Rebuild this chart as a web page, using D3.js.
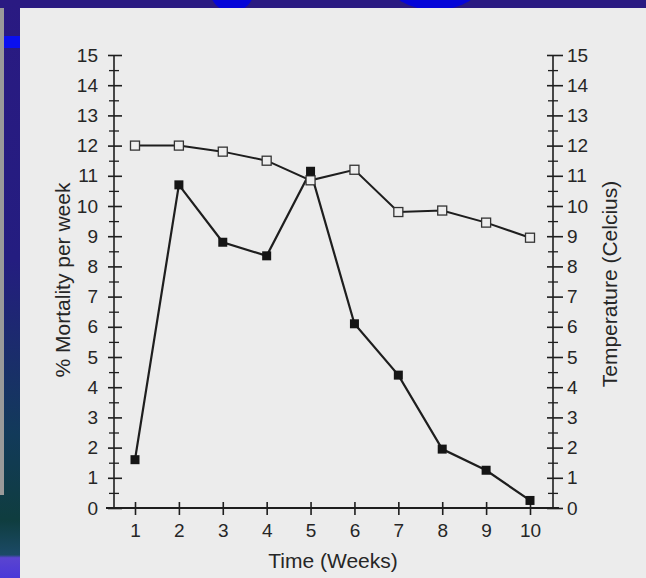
<!DOCTYPE html>
<html>
<head>
<meta charset="utf-8">
<script src="https://cdn.jsdelivr.net/npm/d3@7"></script>
<style>
  body { margin: 0; background: #2a1a82; }
  svg { display: block; }
  text { font-family: "Liberation Sans", Arial, sans-serif; fill: #262626; }
</style>
</head>
<body>
<div id="chart"></div>
<script>
const width = 646;
const height = 578;

// data
const weeks = [1, 2, 3, 4, 5, 6, 7, 8, 9, 10];
const mortality = [1.6, 10.7, 8.8, 8.35, 11.15, 6.1, 4.4, 1.95, 1.25, 0.25];
const temperature = [12.0, 12.0, 11.8, 11.5, 10.85, 11.2, 9.8, 9.85, 9.45, 8.95];
const yTicks = d3.range(0, 16);
const yMinorTicks = d3.range(0.5, 15, 1);

const axisLeftX = 114;
const axisRightX = 553;
const axisBottomY = 508;

const x = d3.scaleLinear().domain([1, 10]).range([135, 530]);
const yLeft = d3.scaleLinear().domain([0, 15]).range([axisBottomY, 55]);
const yRight = d3.scaleLinear().domain([0, 15]).range([axisBottomY, 55]);

const svg = d3.select('#chart').append('svg')
  .attr('width', width).attr('height', height);

// powerpoint background + scanned page
const defs = svg.append('defs');
const grad = defs.append('linearGradient').attr('id', 'side').attr('x1', 0).attr('y1', 0).attr('x2', 0).attr('y2', 1);
grad.append('stop').attr('offset', '0%').attr('stop-color', '#2a1a82');
grad.append('stop').attr('offset', '45%').attr('stop-color', '#241d80');
grad.append('stop').attr('offset', '75%').attr('stop-color', '#123a5a');
grad.append('stop').attr('offset', '90%').attr('stop-color', '#0f3d3f');
grad.append('stop').attr('offset', '96%').attr('stop-color', '#1b4a66');
grad.append('stop').attr('offset', '96.5%').attr('stop-color', '#5a44d0');
grad.append('stop').attr('offset', '100%').attr('stop-color', '#4a38d8');

svg.append('rect').attr('width', width).attr('height', height).attr('fill', '#2a1a82');
svg.append('rect').attr('x', 0).attr('y', 0).attr('width', 20).attr('height', height).attr('fill', 'url(#side)');
svg.append('rect').attr('x', 0).attr('y', 8).attr('width', 4).attr('height', 487).attr('fill', '#9a9a9a');
svg.append('rect').attr('x', 4).attr('y', 36).attr('width', 16).attr('height', 12).attr('fill', '#0a10f0');

// blue shapes peeking over the top edge
svg.append('ellipse').attr('cx', 232).attr('cy', -10).attr('rx', 22).attr('ry', 22).attr('fill', '#0505d8');
svg.append('ellipse').attr('cx', 435).attr('cy', -20).attr('rx', 48).attr('ry', 30).attr('fill', '#0505d8');

svg.append('rect').attr('x', 20).attr('y', 8).attr('width', width - 20).attr('height', height - 8).attr('fill', '#ececec');

const ink = '#1e1e1e';

// left axis
const gLeft = svg.append('g').attr('transform', `translate(${axisLeftX},0)`);
gLeft.call(d3.axisLeft(yLeft).tickValues(yTicks).tickSize(6).tickPadding(10).tickSizeOuter(0))
  .call(g => g.select('.domain').remove())
  .call(g => g.selectAll('line').attr('x1', 8).attr('stroke', ink).attr('stroke-width', 1.6))
  .call(g => g.selectAll('text').attr('font-size', 19).style('fill', '#262626'));
gLeft.append('g')
  .call(d3.axisLeft(yLeft).tickValues(yMinorTicks).tickSize(5).tickFormat(''))
  .call(g => g.select('.domain').remove())
  .call(g => g.selectAll('line').attr('x1', 5).attr('stroke', ink).attr('stroke-width', 1.3));
gLeft.append('line').attr('y1', yLeft(15)).attr('y2', axisBottomY).attr('stroke', ink).attr('stroke-width', 1.6);

// right axis
const gRight = svg.append('g').attr('transform', `translate(${axisRightX},0)`);
gRight.call(d3.axisRight(yRight).tickValues(yTicks).tickSize(10).tickPadding(4).tickSizeOuter(0))
  .call(g => g.select('.domain').remove())
  .call(g => g.selectAll('line').attr('x1', -6).attr('stroke', ink).attr('stroke-width', 1.6))
  .call(g => g.selectAll('text').attr('font-size', 19).style('fill', '#262626'));
gRight.append('g')
  .call(d3.axisRight(yRight).tickValues(yMinorTicks).tickSize(5).tickFormat(''))
  .call(g => g.select('.domain').remove())
  .call(g => g.selectAll('line').attr('x1', -5).attr('stroke', ink).attr('stroke-width', 1.3));
gRight.append('line').attr('y1', yRight(15)).attr('y2', axisBottomY).attr('stroke', ink).attr('stroke-width', 1.6);

// bottom axis
const gBottom = svg.append('g').attr('transform', `translate(0,${axisBottomY})`);
gBottom.call(d3.axisBottom(x).tickValues(weeks).tickSize(7).tickPadding(9).tickFormat(d3.format('d')))
  .call(g => g.select('.domain').remove())
  .call(g => g.selectAll('line').attr('y1', -6).attr('stroke', ink).attr('stroke-width', 1.6))
  .call(g => g.selectAll('text').attr('font-size', 19).style('fill', '#262626'));
gBottom.append('line').attr('x1', axisLeftX - 8).attr('x2', axisRightX + 6).attr('stroke', ink).attr('stroke-width', 1.8);

// axis titles
svg.append('text').attr('transform', 'translate(64,280) rotate(-90)')
  .attr('text-anchor', 'middle').attr('dominant-baseline', 'middle').attr('font-size', 21)
  .text('% Mortality per week');
svg.append('text').attr('transform', 'translate(611,284) rotate(-90)')
  .attr('text-anchor', 'middle').attr('dominant-baseline', 'middle').attr('font-size', 21)
  .text('Temperature (Celcius)');
svg.append('text').attr('x', 333).attr('y', 562)
  .attr('text-anchor', 'middle').attr('dominant-baseline', 'middle').attr('font-size', 21)
  .text('Time (Weeks)');

// series
const tempData = weeks.map((w, i) => ({week: w, value: temperature[i]}));
const mortData = weeks.map((w, i) => ({week: w, value: mortality[i]}));

svg.append('path').datum(tempData)
  .attr('fill', 'none').attr('stroke', ink).attr('stroke-width', 2)
  .attr('d', d3.line().x(d => x(d.week)).y(d => yRight(d.value)));

svg.append('path').datum(mortData)
  .attr('fill', 'none').attr('stroke', ink).attr('stroke-width', 2.2)
  .attr('d', d3.line().x(d => x(d.week)).y(d => yLeft(d.value)));

const sq = 9;
svg.append('g').selectAll('rect').data(tempData).enter().append('rect')
  .attr('x', d => x(d.week) - sq / 2)
  .attr('y', d => yRight(d.value) - sq / 2)
  .attr('width', sq).attr('height', sq)
  .attr('fill', '#eeeeee').attr('stroke', '#333').attr('stroke-width', 1.3);

svg.append('g').selectAll('rect').data(mortData).enter().append('rect')
  .attr('x', d => x(d.week) - sq / 2)
  .attr('y', d => yLeft(d.value) - sq / 2)
  .attr('width', sq).attr('height', sq)
  .attr('fill', '#151515');
</script>
</body>
</html>
